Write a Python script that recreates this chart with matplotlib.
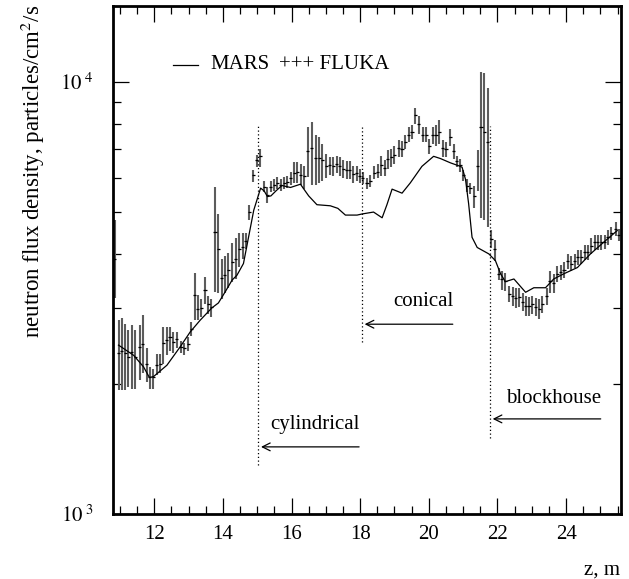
import matplotlib
matplotlib.use('Agg')
import matplotlib.pyplot as plt
from matplotlib.ticker import FixedLocator, FixedFormatter, NullFormatter

plt.rcParams['font.family'] = ['Liberation Serif', 'DejaVu Serif']
plt.rcParams['mathtext.fontset'] = 'stix'

# MARS curve (z in m, flux)
mars_z = [10.96, 11.40, 11.69, 11.86, 11.98, 12.37, 12.76, 13.05, 13.34, 13.68, 13.87, 14.07,
          14.27, 14.41, 14.60, 14.75, 14.90, 15.10, 15.20, 15.30, 15.40, 15.55, 15.72, 15.97,
          16.26, 16.50, 16.74, 17.13, 17.35, 17.57, 17.91, 18.06, 18.39, 18.64, 18.78, 18.93,
          19.22, 19.46, 19.80, 20.14, 20.34, 20.63, 20.87, 20.97, 21.07, 21.16, 21.26, 21.41,
          21.75, 21.94, 22.09, 22.23, 22.48, 22.82, 23.06, 23.40, 23.64, 23.94, 24.33, 24.71,
          25.10, 25.49]
mars_v = [2460, 2330, 2190, 2070, 2080, 2210, 2440, 2640, 2810, 3000, 3080, 3270,
          3480, 3570, 3800, 4380, 5050, 5680, 5600, 5430, 5450, 5600, 5760, 5700,
          5800, 5450, 5200, 5170, 5100, 4920, 4920, 4950, 5000, 4850, 5200, 5650,
          5530, 5840, 6380, 6730, 6650, 6500, 6400, 6350, 5950, 5230, 4370, 4140,
          4000, 3860, 3600, 3450, 3500, 3260, 3340, 3340, 3500, 3600, 3720, 4000,
          4260, 4530]

# FLUKA points: z, value, lower and upper end of error bar (in thousands)
fluka_z = [10.85, 10.96, 11.06, 11.16, 11.25, 11.35, 11.45, 11.58, 11.67, 11.78, 11.87, 11.97,
           12.07, 12.17, 12.26, 12.36, 12.46, 12.56, 12.66, 12.78, 12.87, 12.99, 13.08, 13.18,
           13.27, 13.37, 13.48, 13.57, 13.66, 13.77, 13.87, 13.97, 14.06, 14.16, 14.28, 14.37,
           14.48, 14.58, 14.67, 14.77, 14.88, 14.99, 15.09, 15.21, 15.30, 15.40, 15.50, 15.59,
           15.69, 15.79, 15.88, 15.98, 16.08, 16.17, 16.27, 16.37, 16.47, 16.59, 16.70, 16.81,
           16.90, 17.01, 17.12, 17.22, 17.32, 17.41, 17.51, 17.61, 17.70, 17.80, 17.90, 17.99,
           18.08, 18.20, 18.30, 18.41, 18.51, 18.61, 18.71, 18.80, 18.90, 19.00, 19.12, 19.22,
           19.32, 19.41, 19.51, 19.61, 19.71, 19.82, 19.92, 20.02, 20.11, 20.21, 20.31, 20.41,
           20.50, 20.62, 20.72, 20.81, 20.92, 21.01, 21.12, 21.21, 21.33, 21.43, 21.52, 21.62,
           21.72, 21.82, 21.92, 22.04, 22.13, 22.23, 22.34, 22.44, 22.53, 22.63, 22.73, 22.83,
           22.92, 23.02, 23.12, 23.22, 23.31, 23.43, 23.53, 23.64, 23.74, 23.84, 23.94, 24.05,
           24.15, 24.25, 24.34, 24.44, 24.54, 24.63, 24.73, 24.83, 24.92, 25.02, 25.12, 25.22,
           25.31, 25.44, 25.54]
fluka_v = [3.90, 2.36, 2.39, 2.36, 2.31, 2.37, 2.31, 2.43, 2.48, 2.22, 2.08, 2.08,
           2.21, 2.22, 2.49, 2.53, 2.57, 2.50, 2.54, 2.44, 2.42, 2.48, 2.68, 3.21,
           2.99, 3.00, 3.30, 3.07, 3.02, 4.49, 4.10, 3.51, 3.57, 3.67, 3.83, 3.89,
           4.10, 4.16, 4.29, 5.00, 6.09, 6.61, 6.73, 5.72, 5.47, 5.72, 5.78, 5.85,
           5.78, 5.85, 5.87, 6.00, 6.16, 6.20, 6.10, 6.05, 6.93, 7.02, 6.66, 6.66,
           6.60, 6.39, 6.42, 6.39, 6.45, 6.39, 6.30, 6.25, 6.25, 6.13, 6.15, 6.05,
           6.00, 5.83, 5.90, 6.16, 6.20, 6.41, 6.33, 6.62, 6.69, 6.78, 7.03, 6.98,
           7.28, 7.54, 7.67, 8.38, 8.00, 7.54, 7.54, 7.12, 7.54, 7.54, 7.67, 7.03,
           6.98, 7.46, 6.92, 6.55, 6.43, 6.09, 5.76, 5.68, 5.46, 6.38, 7.88, 7.67,
           7.28, 4.33, 4.11, 3.60, 3.50, 3.46, 3.23, 3.20, 3.16, 3.18, 3.10, 3.03,
           3.03, 3.06, 3.02, 2.98, 3.06, 3.20, 3.46, 3.43, 3.60, 3.63, 3.68, 3.86,
           3.80, 3.86, 3.93, 3.93, 4.04, 4.04, 4.18, 4.26, 4.26, 4.26, 4.26, 4.38,
           4.46, 4.58, 4.42]
fluka_lo = [3.16, 1.94, 1.94, 1.94, 1.97, 1.95, 1.95, 2.04, 2.12, 2.02, 1.95, 1.95,
            2.10, 2.12, 2.23, 2.33, 2.38, 2.36, 2.42, 2.36, 2.33, 2.39, 2.58, 2.81,
            2.81, 2.86, 3.07, 2.90, 2.86, 3.27, 3.24, 3.15, 3.24, 3.33, 3.45, 3.50,
            3.73, 3.90, 4.10, 4.80, 5.87, 6.37, 6.37, 5.55, 5.25, 5.55, 5.60, 5.66,
            5.60, 5.66, 5.68, 5.78, 5.83, 5.85, 5.78, 5.66, 6.04, 5.78, 5.78, 5.85,
            5.90, 6.00, 6.10, 6.05, 6.15, 6.05, 6.00, 5.95, 5.95, 5.85, 5.90, 5.85,
            5.80, 5.65, 5.70, 5.95, 6.00, 6.05, 6.05, 6.30, 6.35, 6.45, 6.70, 6.70,
            7.00, 7.25, 7.40, 8.00, 7.60, 7.25, 7.25, 6.80, 7.20, 7.10, 7.20, 6.70,
            6.70, 7.10, 6.65, 6.35, 6.20, 5.90, 5.55, 5.50, 5.10, 5.60, 4.85, 4.80,
            4.61, 4.13, 3.85, 3.48, 3.30, 3.28, 3.10, 3.03, 3.00, 3.02, 2.95, 2.88,
            2.88, 2.90, 2.87, 2.82, 2.92, 3.05, 3.25, 3.25, 3.45, 3.48, 3.52, 3.70,
            3.66, 3.72, 3.78, 3.80, 3.88, 3.88, 4.00, 4.08, 4.08, 4.08, 4.10, 4.20,
            4.30, 4.40, 4.28]
fluka_hi = [4.80, 2.81, 2.84, 2.76, 2.67, 2.74, 2.66, 2.74, 2.89, 2.42, 2.19, 2.17,
            2.35, 2.35, 2.71, 2.71, 2.71, 2.64, 2.64, 2.52, 2.49, 2.57, 2.78, 3.61,
            3.21, 3.15, 3.54, 3.20, 3.15, 5.72, 4.95, 3.90, 3.95, 4.02, 4.23, 4.35,
            4.46, 4.46, 4.46, 5.20, 6.25, 6.79, 7.00, 5.90, 5.72, 5.90, 5.95, 6.02,
            5.95, 6.02, 6.05, 6.20, 6.53, 6.53, 6.45, 6.40, 7.87, 8.07, 7.55, 7.45,
            7.20, 6.80, 6.72, 6.70, 6.75, 6.70, 6.60, 6.55, 6.55, 6.40, 6.40, 6.30,
            6.20, 6.00, 6.10, 6.40, 6.45, 6.75, 6.60, 6.95, 7.00, 7.10, 7.35, 7.30,
            7.55, 7.85, 7.95, 8.70, 8.35, 7.85, 7.85, 7.40, 7.85, 7.95, 8.15, 7.35,
            7.25, 7.80, 7.20, 6.75, 6.65, 6.25, 5.95, 5.85, 5.75, 6.95, 10.56, 10.50,
            9.70, 4.55, 4.30, 3.72, 3.65, 3.62, 3.38, 3.35, 3.33, 3.33, 3.25, 3.20,
            3.18, 3.20, 3.17, 3.15, 3.20, 3.33, 3.65, 3.60, 3.75, 3.78, 3.83, 4.00,
            3.95, 4.00, 4.08, 4.08, 4.20, 4.20, 4.35, 4.42, 4.42, 4.42, 4.42, 4.55,
            4.62, 4.75, 4.58]

fv = [v * 1000 for v in fluka_v]
err_lo = [(v - lo) * 1000 for v, lo in zip(fluka_v, fluka_lo)]
err_hi = [(hi - v) * 1000 for v, hi in zip(fluka_v, fluka_hi)]

fig = plt.figure(figsize=(6.29, 5.79), dpi=100)
ax = fig.add_axes([0.1797, 0.1123, 0.8076, 0.8774])

ax.errorbar(fluka_z, fv, yerr=[err_lo, err_hi], fmt='none', ecolor='#5c5c5c', elinewidth=1.5)
ax.errorbar(fluka_z, fv, xerr=0.045, fmt='none', ecolor='black', elinewidth=0.9)
ax.plot(mars_z, mars_v, color='black', lw=0.9)

# section boundaries
ax.vlines([15.03, 18.05, 21.78], [1300, 2500, 1500], [8000, 7930, 7930],
          colors='black', linestyles=(0, (1, 2)), lw=0.9)

arrow = dict(arrowstyle='->', lw=0.9, color='black', mutation_scale=14)
ax.annotate('', xy=(15.03, 1430), xytext=(18.05, 1430), arrowprops=arrow)
ax.annotate('', xy=(18.05, 2750), xytext=(20.78, 2750), arrowprops=arrow)
ax.annotate('', xy=(21.78, 1660), xytext=(25.09, 1660), arrowprops=arrow)
ax.text(15.38, 1610, 'cylindrical', fontsize=15, va='center', ha='left')
ax.text(18.97, 3110, 'conical', fontsize=15, va='center', ha='left')
ax.text(22.25, 1850, 'blockhouse', fontsize=15, va='center', ha='left')

# legend
ax.plot([0.119, 0.167], [0.884, 0.884], color='black', lw=0.9, transform=ax.transAxes)
ax.text(0.191, 0.884, 'MARS', fontsize=15, va='center', transform=ax.transAxes)
ax.text(0.326, 0.884, '+++ FLUKA', fontsize=15, va='center', transform=ax.transAxes)

ax.set_yscale('log')
ax.set_xlim(10.8, 25.6)
ax.set_ylim(1000, 15000)

ax.xaxis.set_major_locator(FixedLocator([12, 14, 16, 18, 20, 22, 24]))
ax.xaxis.set_minor_locator(FixedLocator([11, 11.5, 12.5, 13, 13.5, 14.5, 15, 15.5, 16.5, 17,
                                         17.5, 18.5, 19, 19.5, 20.5, 21, 21.5, 22.5, 23, 23.5,
                                         24.5, 25, 25.5]))
ax.yaxis.set_major_locator(FixedLocator([1000, 10000]))
ax.yaxis.set_major_formatter(FixedFormatter([r'$10^{\ 3}$', r'$10^{\ 4}$']))
ax.yaxis.set_minor_locator(FixedLocator([2000, 3000, 4000, 5000, 6000, 7000, 8000, 9000]))
ax.yaxis.set_minor_formatter(NullFormatter())

ax.tick_params(which='both', direction='in', top=True, right=True, width=0.9, labelsize=15)
ax.tick_params(which='major', length=11.5)
ax.tick_params(which='minor', length=5.8)
ax.tick_params(axis='x', pad=8)
ax.tick_params(axis='y', pad=14)
for s in ax.spines.values():
    s.set_linewidth(2)

fig.text(0.052, 0.992, 'neutron flux density, particles/cm$^2$/s', rotation=90,
         fontsize=16.5, ha='center', va='top')
fig.text(0.986, 0.015, 'z, m', fontsize=15, ha='right', va='center')

fig.savefig('out.png', dpi=100)
